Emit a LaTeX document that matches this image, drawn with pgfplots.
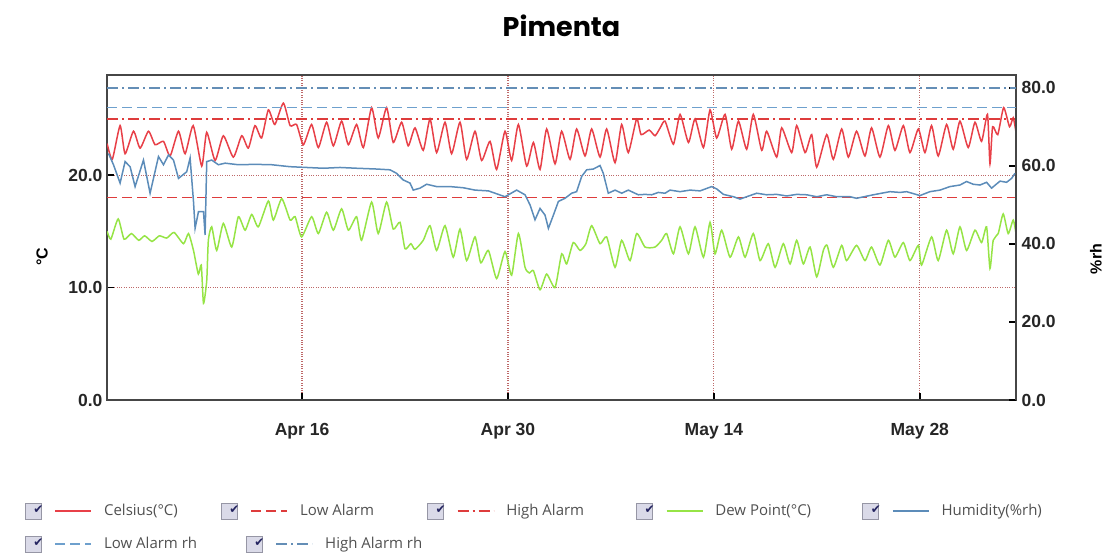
\documentclass[border=0pt]{standalone}
\usepackage{fontspec}
\usepackage{pgfplots}
\pgfplotsset{compat=1.18}
\setmainfont{Liberation Sans}
\newfontfamily\titlefont{Poppins}
\newfontfamily\tickfont{Liberation Sans}
\newfontfamily\legfont{Open Sans}
\newfontfamily\dejavu{DejaVu Sans}
\definecolor{celsius}{RGB}{232,64,72}
\definecolor{alarmred}{RGB}{222,60,60}
\definecolor{dew}{RGB}{150,228,70}
\definecolor{humid}{RGB}{92,140,185}
\definecolor{lowrh}{RGB}{110,160,205}
\definecolor{highrh}{RGB}{100,142,182}
\definecolor{gridred}{RGB}{190,105,105}
\definecolor{framegray}{RGB}{70,70,70}
\definecolor{chkfill}{RGB}{218,218,232}
\definecolor{chkborder}{RGB}{150,150,165}
\definecolor{chkmark}{RGB}{35,35,95}
\definecolor{legtext}{RGB}{80,80,80}
\pgfplotsset{
  chk legend/.style={legend image code/.code={
    \draw[solid, draw=chkborder, fill=chkfill, line width=0.7pt] (0pt,-8pt) rectangle (16pt,8pt);
    \node[draw=none, fill=none, text=chkmark, inner sep=0pt, font=\dejavu\fontsize{12}{12}\selectfont] at (8pt,0.5pt) {✔};
    \draw (30pt,0pt) -- (66pt,0pt);
  }},
  lowstyle/.style={dash pattern=on 10pt off 5pt},
  highstyle/.style={dash pattern=on 11pt off 4pt on 2pt off 4pt},
}
\begin{document}
\begin{tikzpicture}
\path[use as bounding box] (0,0) rectangle (1113pt,555pt);
\begin{axis}[
  at={(107pt,155pt)}, anchor=south west,
  scale only axis, width=909pt, height=325pt,
  xmin=2.74, xmax=64.54, ymin=0, ymax=28.9,
  xtick={16,30,44,58}, xticklabels={Apr 16,Apr 30,May 14,May 28},
  ytick={0,10,20}, yticklabels={0.0,10.0,20.0},
  xtick pos=left, ytick pos=left, tick align=inside,
  major tick length=7pt,
  tick style={black, line width=1.5pt},
  axis line style={framegray, line width=1.3pt},
  grid=major, grid style={gridred, dotted, line width=1.1pt},
  tick label style={font=\tickfont\bfseries\fontsize{17.5}{20}\selectfont, text=black!85},
  yticklabel style={xshift=-1pt},
  xticklabel shift=20pt,
  title={Pimenta},
  title style={font=\titlefont\bfseries\fontsize{27}{30}\selectfont, at={(axis description cs:0.5,1)}, anchor=center, yshift=43pt},
  ylabel={°C},
  ylabel style={font=\tickfont\bfseries\fontsize{16}{18}\selectfont, at={(axis description cs:-0.0715,0.44)}, anchor=center},
  legend columns=5,
  legend cell align=left,
  legend style={draw=none, fill=none, inner sep=0pt, outer sep=0pt,
    at={(axis description cs:-0.0902,-0.3415)}, anchor=west,
    font=\legfont\fontsize{15}{18}\selectfont, text=legtext,
    nodes={inner sep=0pt},
    /tikz/every odd column/.append style={column sep=12pt},
    /tikz/every even column/.append style={column sep=0pt}},
]
\addplot[celsius, line width=1.5pt, smooth, tension=0.35, chk legend] coordinates {
(2.75,22.8) (3.1,21.4) (3.63,24.4) (3.97,21.9) (4.54,23.9) (4.99,22.4) (5.56,23.9) (6.01,22.7) (6.58,23.0) (7.03,21.7) (7.6,23.9) (8.05,21.9) (8.6,24.4) (9.18,20.8) (9.52,23.8) (10.09,21.3) (10.65,23.5) (11.33,21.6) (11.9,23.5) (12.35,22.4) (12.8,24.4) (13.25,23.3) (13.71,25.8) (14.15,24.5) (14.73,26.4) (15.19,24.4) (15.63,24.5) (16.09,22.7) (16.65,24.5) (17.11,22.45) (17.67,24.7) (18.13,22.6) (18.69,24.8) (19.15,22.7) (19.71,24.5) (20.17,22.45) (20.73,26.0) (21.18,23.3) (21.75,26.0) (22.2,22.9) (22.77,24.7) (23.22,22.6) (23.68,24.2) (24.24,22.2) (24.7,25.0) (25.15,22.0) (25.72,24.7) (26.17,21.9) (26.74,24.7) (27.19,21.4) (27.76,23.9) (28.21,21.3) (28.78,23.0) (29.23,20.5) (29.8,23.9) (30.25,21.3) (30.71,24.5) (31.27,20.8) (31.73,22.9) (32.18,20.5) (32.63,24.1) (33.2,21.0) (33.65,23.9) (34.22,21.4) (34.67,24.1) (35.24,21.7) (35.69,24.1) (36.26,21.6) (36.71,24.1) (37.28,21.1) (37.73,24.5) (38.18,22.0) (38.75,25.0) (39.05,23.6) (39.6,24.0) (40.0,23.5) (40.35,24.2) (40.68,24.8) (41.25,22.75) (41.7,25.4) (42.27,22.9) (42.72,25.0) (43.29,22.45) (43.74,25.8) (44.19,23.3) (44.76,25.4) (45.21,22.3) (45.67,24.8) (46.23,22.3) (46.68,25.4) (47.25,22.2) (47.59,23.9) (48.27,21.6) (48.61,24.2) (49.29,22.0) (49.63,24.4) (50.2,22.0) (50.65,23.6) (50.99,20.7) (51.67,23.6) (52.12,21.4) (52.69,24.1) (53.14,21.6) (53.7,23.9) (54.27,21.7) (54.72,24.2) (55.29,21.6) (55.86,24.4) (56.31,22.2) (56.88,24.4) (57.33,22.0) (57.9,24.1) (58.35,22.0) (58.8,24.4) (59.25,21.7) (59.82,24.5) (60.27,22.3) (60.73,24.8) (61.29,22.45) (61.75,24.7) (62.2,23.0) (62.6,25.4) (62.77,21.0) (62.95,24.3) (63.3,23.6) (63.7,26.0) (64.1,24.3) (64.35,25.1) (64.54,23.8)
};
\addlegendentry{\makebox[117pt][l]{Celsius(°C)}}
\addplot[alarmred, line width=1.5pt, lowstyle, chk legend] coordinates {(2.74,18) (64.54,18)};
\addlegendentry{\makebox[127pt][l]{Low Alarm}}
\addplot[alarmred, line width=1.5pt, highstyle, chk legend] coordinates {(2.74,25) (64.54,25)};
\addlegendentry{\makebox[130pt][l]{High Alarm}}
\addplot[dew, line width=1.5pt, smooth, tension=0.35, chk legend] coordinates {
(2.75,15.0) (3.0,14.3) (3.5,16.1) (3.9,14.3) (4.4,14.8) (4.9,14.2) (5.3,14.6) (5.8,14.1) (6.3,14.6) (6.8,14.4) (7.3,14.9) (7.94,13.9) (8.28,14.8) (8.62,13.3) (8.95,11.2) (9.15,12.0) (9.3,8.6) (9.52,10.6) (9.63,14.2) (9.86,15.4) (10.2,13.3) (10.65,15.7) (11.22,13.6) (11.67,16.3) (12.13,15.1) (12.58,16.5) (13.03,15.4) (13.71,17.7) (14.05,16.0) (14.62,17.9) (15.19,16.0) (15.53,16.3) (15.97,14.5) (16.65,16.3) (17.11,14.8) (17.67,16.7) (18.13,15.1) (18.69,17.0) (19.15,15.1) (19.71,16.3) (20.05,14.2) (20.73,17.6) (21.18,14.8) (21.75,17.6) (22.2,15.2) (22.66,15.8) (23.0,13.45) (23.4,13.9) (23.68,13.4) (24.24,14.2) (24.7,15.5) (25.15,13.3) (25.72,15.5) (26.28,12.7) (26.74,15.2) (27.19,12.4) (27.76,14.5) (28.15,12.2) (28.67,13.3) (29.23,10.8) (29.8,13.2) (30.25,11.1) (30.71,14.8) (31.16,11.8) (31.45,11.3) (31.73,11.5) (32.18,9.8) (32.63,11.2) (33.2,10.0) (33.65,13.0) (33.99,12.1) (34.44,14.0) (34.9,13.3) (35.3,13.9) (35.69,15.5) (36.26,13.9) (36.71,14.5) (37.28,11.8) (37.73,14.2) (38.3,12.4) (38.75,14.8) (39.32,13.6) (40.0,13.6) (40.45,14.2) (40.79,14.8) (41.25,13.0) (41.7,15.4) (42.27,13.0) (42.72,15.4) (43.29,12.7) (43.74,15.8) (44.08,13.0) (44.53,15.1) (45.1,12.7) (45.67,14.5) (46.12,12.7) (46.68,14.8) (47.14,12.4) (47.7,13.9) (48.16,11.8) (48.72,13.9) (49.18,12.1) (49.63,14.2) (50.08,12.1) (50.54,13.6) (50.99,10.95) (51.44,13.3) (51.7,13.75) (52.12,11.8) (52.69,13.75) (53.02,12.4) (53.7,13.75) (54.27,12.4) (54.72,13.6) (55.29,12.0) (55.86,14.2) (56.31,12.7) (56.88,14.0) (57.33,12.4) (57.9,13.75) (58.12,12.0) (58.8,14.5) (59.25,12.4) (59.82,15.1) (60.27,13.0) (60.73,15.4) (61.18,13.3) (61.75,15.1) (62.2,14.0) (62.54,15.4) (62.77,11.7) (62.99,14.2) (63.33,14.8) (63.67,16.55) (64.01,14.8) (64.35,16.0) (64.54,14.8)
};
\addlegendentry{\makebox[147pt][l]{Dew Point(°C)}}
\addlegendimage{humid, line width=1.5pt, chk legend}
\addlegendentry{Humidity(\%rh)}
\end{axis}
\begin{axis}[
  at={(107pt,155pt)}, anchor=south west,
  scale only axis, width=909pt, height=325pt,
  xmin=2.74, xmax=64.54, ymin=0, ymax=83.3,
  axis x line=none, axis y line*=right,
  ytick={0,20,40,60,80}, yticklabels={0.0,20.0,40.0,60.0,80.0},
  tick align=inside, major tick length=7pt,
  tick style={black, line width=1.5pt},
  axis line style={framegray, line width=1.3pt},
  tick label style={font=\tickfont\bfseries\fontsize{17.5}{20}\selectfont, text=black!85},
  yticklabel style={xshift=2pt},
  ylabel={\%rh},
  ylabel style={font=\tickfont\bfseries\fontsize{16}{18}\selectfont, at={(axis description cs:1.088,0.434)}, anchor=center},
  legend columns=2,
  legend cell align=left,
  legend style={draw=none, fill=none, inner sep=0pt, outer sep=0pt,
    at={(axis description cs:-0.0902,-0.443)}, anchor=west,
    font=\legfont\fontsize{15}{18}\selectfont, text=legtext,
    nodes={inner sep=0pt},
    /tikz/every odd column/.append style={column sep=12pt},
    /tikz/every even column/.append style={column sep=0pt}},
]
\addplot[humid, line width=1.5pt, forget plot] coordinates {
(2.84,63.2) (3.18,60.3) (3.63,55.6) (3.97,61.1) (4.31,59.8) (4.65,54.7) (5.22,61.5) (5.67,53.0) (6.24,62.4) (6.58,60.3) (6.92,62.8) (7.26,61.5) (7.6,56.8) (8.16,58.5) (8.39,62.0) (8.62,50.9) (8.73,44.0) (8.96,48.3) (9.3,48.3) (9.41,42.3) (9.52,61.1) (9.86,61.5) (10.31,60.3) (10.77,60.7) (11.67,60.3) (12.81,60.4) (13.94,60.3) (15.18,59.8) (16.31,59.6) (17.45,59.4) (18.58,59.6) (19.71,59.4) (21.07,59.2) (21.98,59.0) (22.43,58.1) (22.88,56.4) (23.34,55.6) (23.56,53.8) (24.02,54.3) (24.47,55.3) (25.15,54.7) (26.06,54.7) (26.96,54.4) (27.76,53.8) (28.67,53.6) (29.8,52.1) (30.59,53.8) (31.16,52.6) (31.5,50.0) (31.84,46.2) (32.18,49.1) (32.52,47.4) (32.75,44.0) (33.09,47.4) (33.43,50.9) (33.88,51.7) (34.33,53.0) (34.67,53.4) (35.01,57.3) (35.35,59.0) (35.8,59.2) (36.26,60.1) (36.48,58.1) (36.82,53.0) (37.28,53.8) (37.73,53.0) (38.18,53.8) (38.86,52.6) (39.32,52.7) (39.77,52.6) (40.22,53.2) (40.68,53.0) (41.02,53.8) (41.7,53.4) (42.38,53.8) (43.06,53.6) (43.85,54.7) (44.19,54.1) (44.65,52.7) (45.33,52.1) (45.78,51.5) (46.23,52.1) (46.91,53.0) (47.59,52.6) (48.27,52.7) (48.95,52.3) (49.63,52.7) (50.31,52.6) (50.99,52.1) (51.67,52.6) (52.35,52.1) (53.26,52.1) (53.7,51.7) (54.84,52.6) (55.97,53.4) (56.65,53.2) (57.1,53.4) (58.01,52.4) (58.69,53.4) (59.37,53.8) (60.05,54.7) (60.73,55.1) (61.18,56.0) (61.63,55.3) (62.09,55.1) (62.54,55.8) (62.88,54.3) (63.45,56.1) (63.9,55.8) (64.24,56.8) (64.47,58.1)
};
\addplot[lowrh, line width=1.5pt, lowstyle, chk legend] coordinates {(2.74,75) (64.54,75)};
\addlegendentry{\makebox[142pt][l]{Low Alarm rh}}
\addplot[highrh, line width=1.5pt, highstyle, chk legend] coordinates {(2.74,80) (64.54,80)};
\addlegendentry{High Alarm rh}
\end{axis}
\end{tikzpicture}
\end{document}
